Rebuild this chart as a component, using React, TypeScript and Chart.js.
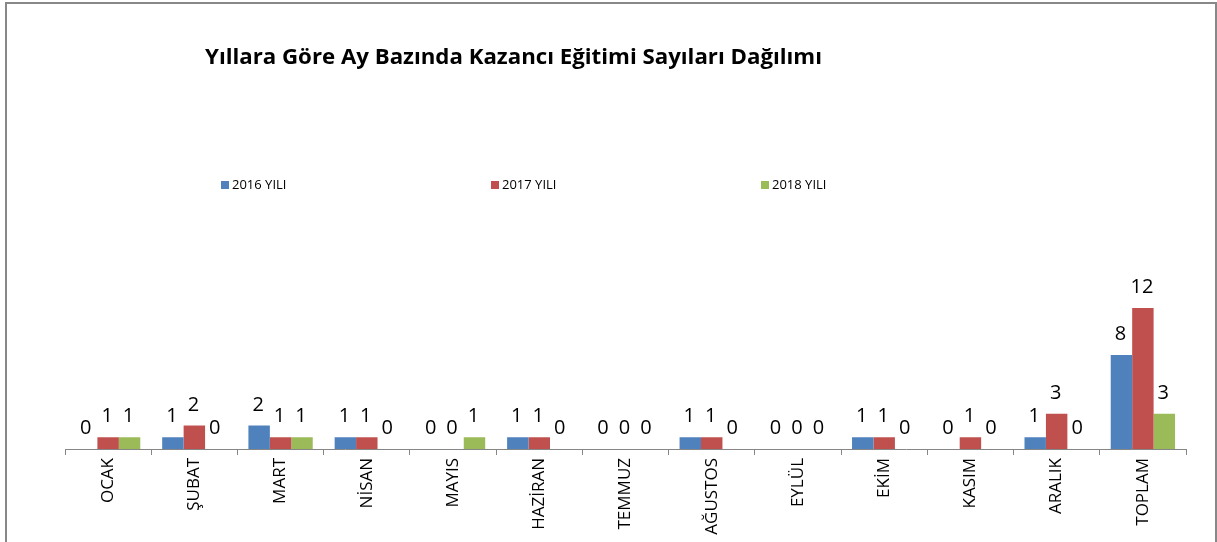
import React, { useEffect, useRef } from "react";
import { Chart, registerables } from "chart.js";

Chart.register(...registerables);

const categories = ["OCAK", "ŞUBAT", "MART", "NİSAN", "MAYIS", "HAZİRAN", "TEMMUZ", "AĞUSTOS", "EYLÜL", "EKİM", "KASIM", "ARALIK", "TOPLAM"];
const values2016 = [0, 1, 2, 1, 0, 1, 0, 1, 0, 1, 0, 1, 8];
const values2017 = [1, 2, 1, 1, 0, 1, 0, 1, 0, 1, 1, 3, 12];
const values2018 = [1, 0, 1, 0, 1, 0, 0, 0, 0, 0, 0, 0, 3];
const seriesLabels = ["2016 YILI", "2017 YILI", "2018 YILI"];
const seriesColors = ["#4F81BD", "#C0504D", "#9BBB59"];
const chartTitle = "Yıllara Göre Ay Bazında Kazancı Eğitimi Sayıları Dağılımı";

const FONT = '"Open Sans", "Liberation Sans", sans-serif';

const titlePlugin = {
  id: "customTitle",
  afterDraw(chart: any) {
    const ctx = chart.ctx;
    ctx.save();
    ctx.font = `bold 22px ${FONT}`;
    ctx.fillStyle = "#000";
    ctx.textAlign = "left";
    ctx.textBaseline = "alphabetic";
    const w = ctx.measureText(chartTitle).width;
    ctx.translate(205, 64);
    ctx.scale(617 / w, 1);
    ctx.fillText(chartTitle, 0, 0);
    ctx.restore();
  },
};

const legendPlugin = {
  id: "customLegend",
  afterDraw(chart: any) {
    const ctx = chart.ctx;
    const starts = [221, 491, 761];
    ctx.save();
    ctx.font = `13px ${FONT}`;
    ctx.textBaseline = "middle";
    ctx.textAlign = "left";
    chart.data.datasets.forEach((ds: any, i: number) => {
      const x = starts[i];
      ctx.fillStyle = ds.backgroundColor;
      ctx.fillRect(x, 181, 8, 8);
      ctx.fillStyle = "#000";
      ctx.fillText(ds.label, x + 11, 185.5);
    });
    ctx.restore();
  },
};

const valueLabelPlugin = {
  id: "valueLabels",
  afterDatasetsDraw(chart: any) {
    const ctx = chart.ctx;
    ctx.save();
    ctx.font = `20px ${FONT}`;
    ctx.fillStyle = "#000";
    ctx.textAlign = "center";
    ctx.textBaseline = "alphabetic";
    chart.data.datasets.forEach((ds: any, i: number) => {
      const meta = chart.getDatasetMeta(i);
      meta.data.forEach((el: any, j: number) => {
        ctx.fillText(String(ds.data[j]), el.x - 1, el.y - 15);
      });
    });
    ctx.restore();
  },
};

export default function App() {
  const canvasRef = useRef<HTMLCanvasElement | null>(null);

  useEffect(() => {
    if (!canvasRef.current) return;
    const chart = new Chart(canvasRef.current, {
      type: "bar",
      data: {
        labels: categories,
        datasets: [
          { label: seriesLabels[0], data: values2016, backgroundColor: seriesColors[0] },
          { label: seriesLabels[1], data: values2017, backgroundColor: seriesColors[1] },
          { label: seriesLabels[2], data: values2018, backgroundColor: seriesColors[2] },
        ],
      },
      options: {
        responsive: false,
        animation: false,
        devicePixelRatio: 1,
        layout: { padding: { left: 65, right: 31, top: 214, bottom: 0 } },
        datasets: {
          bar: { categoryPercentage: 0.746, barPercentage: 1, borderWidth: 0 },
        },
        plugins: {
          legend: { display: false },
          title: { display: false },
          tooltip: { enabled: false },
        },
        scales: {
          x: {
            offset: true,
            afterFit: (scale: any) => {
              scale.height = 93;
            },
            border: { display: true, color: "#868686", width: 1 },
            grid: {
              offset: true,
              drawOnChartArea: false,
              drawTicks: true,
              tickLength: 6,
              color: "#868686",
            },
            ticks: {
              autoSkip: false,
              minRotation: 90,
              maxRotation: 90,
              padding: 3,
              color: "#000",
              font: { family: FONT, size: 17 },
            },
          },
          y: {
            display: false,
            min: 0,
            max: 20,
          },
        },
      },
      plugins: [titlePlugin, legendPlugin, valueLabelPlugin],
    });
    return () => chart.destroy();
  }, []);

  return (
    <div style={{ position: "fixed", left: 0, top: 0, width: 1217, height: 542, overflow: "hidden", background: "#fff" }}>
      <div
        style={{
          position: "absolute",
          left: 5,
          top: 2,
          width: 1212,
          height: 600,
          border: "2px solid #888",
          boxSizing: "border-box",
        }}
      />
      <canvas ref={canvasRef} width={1217} height={542} style={{ position: "absolute", left: 0, top: 0 }} />
    </div>
  );
}
